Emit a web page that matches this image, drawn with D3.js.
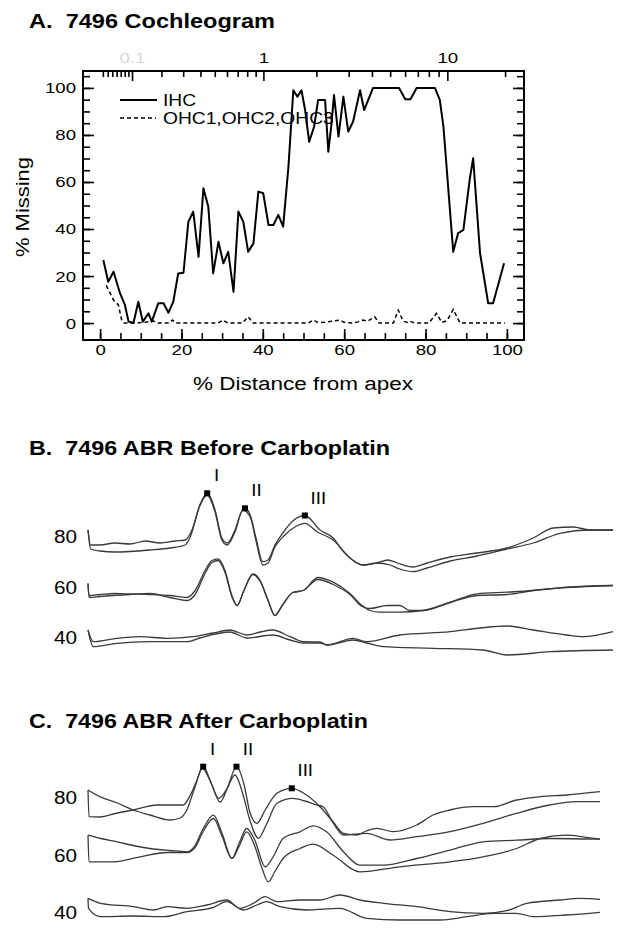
<!DOCTYPE html>
<html><head><meta charset="utf-8">
<script src="https://cdn.jsdelivr.net/npm/d3@7"></script>
<style>
html,body{margin:0;padding:0;background:#fff;}
svg{display:block;font-family:"Liberation Sans",Arial,Helvetica,sans-serif;}
text{white-space:pre;}
</style></head><body><svg id="chart" width="624" height="940"></svg>
<script>
// ---------- Panel A data: cochleogram ----------
const ihcDist = [0.8,2.0,3.3,4.9,6.1,7.0,8.2,9.4,10.5,11.9,12.7,14.3,15.6,16.8,18.0,19.2,20.5,21.7,22.9,24.2,25.4,26.6,27.8,29.1,30.3,31.5,32.8,34.0,35.2,36.4,37.7,38.9,40.1,41.4,42.6,43.8,45.0,46.3,47.5,48.5,49.5,50.4,51.4,52.6,53.6,55.3,56.1,56.9,57.5,58.6,59.8,61.0,62.2,63.9,64.9,67.1,73.5,75.0,76.3,77.8,82.3,83.5,84.4,86.8,88.0,89.3,90.9,91.7,93.4,95.4,96.6,99.3];
const ihcMissing = [26.8,17.6,21.8,12.7,7.7,0.6,0,9.1,0.6,4.1,0.6,8.4,8.4,4.4,9.1,21.1,21.4,43.1,47.4,28.2,57.3,49.5,21.1,34.6,25.4,30.3,13.3,47.4,43.1,30.3,33.9,55.9,55.2,41.7,41.7,46.0,41.0,66.5,99,96.3,99,90.6,77.1,83.5,94.9,94.9,72.9,85,97,79.3,96.3,81.4,85.7,99,90.6,100,100,95.2,95.2,100,100,94.9,83.5,30.3,38.2,39.6,61.6,70.1,29.7,8.4,8.4,25.4];
const ohcDist = [1.5,3.3,4.5,5.3,5.9,9,11.5,13,14,17,17.8,18.6,29,30.2,31.4,35,36.4,37.6,51.2,52.4,53.6,55,57.0,58.9,60,62,63.4,64.6,65.8,67.5,68.6,72.1,73.3,74.5,75.5,76.2,77.3,80.8,82.7,84.0,85.3,86.8,88.5,99.5];
const ohcMissing = [16,9.8,7.7,1.3,0,0,0.5,1,0,0,1.3,0,0,1.3,0,0,2.7,0,0,1.3,0.2,0.3,0.8,1.3,0.3,0,0.5,1.3,0.8,2.7,0,0,5.5,0.8,0.3,0.8,0,0,4.1,0.3,1.0,5.8,0,0];
const distTicks = [0,20,40,60,80,100];
const missingTicks = [0,20,40,60,80,100];
const freqMajor = [0.1,1,10];
const freqLabels = ["0.1","1","10"];
const freqMinor = [0.03,0.04,0.05,0.06,0.07,0.08,0.09,0.2,0.3,0.4,0.5,0.6,0.7,0.8,0.9,2,3,4,5,6,7,8,9,20];
const legendLabels = ["IHC","OHC1,OHC2,OHC3"];
const axisTitles = ["% Distance from apex","% Missing"];
const panelTitles = ["A.  7496 Cochleogram","B.  7496 ABR Before Carboplatin","C.  7496 ABR After Carboplatin"];

// ---------- Panels B, C data: ABR traces [ms, uV] ----------
const levels = ["80","60","40"];
const abrB80a = [[0,.7],[.05,-.8],[.23,-.8],[.51,-.6],[.8,-.7],[1.09,-.4],[1.37,-.6],[1.66,-.4],[1.85,-.3],[1.98,.7],[2.13,3.2],[2.27,4.37],[2.42,2.7],[2.55,-.1],[2.65,-.6],[2.8,.7],[2.93,2.6],[2.99,2.87],[3.09,2.2],[3.2,-.1],[3.33,-2.47],[3.43,-2.3],[3.56,-.8],[3.71,.4],[3.9,1.6],[4.13,2.15],[4.42,.7],[4.67,-.1],[4.84,-1.3],[4.99,-2.1],[5.24,-2.8],[5.5,-2.6],[5.71,-2.3],[5.89,-2.6],[6.19,-3.0],[6.46,-2.6],[6.9,-2.0],[7.41,-1.6],[7.98,-1.1],[8.48,-.1],[8.86,.9],[9.24,1.0],[9.56,.7],[10,.7]];
const abrB80b = [[0,.7],[.05,-1.2],[.23,-1.4],[.51,-1.5],[.8,-1.45],[1.18,-1.3],[1.56,-1.1],[1.85,-.8],[1.94,-.1],[2.13,3.1],[2.27,4.2],[2.42,2.5],[2.55,-.3],[2.65,-.8],[2.8,.5],[2.95,2.7],[3.09,2.0],[3.2,-.4],[3.33,-2.8],[3.43,-2.6],[3.56,-1.0],[3.75,.2],[3.94,1.0],[4.13,1.37],[4.36,.53],[4.67,-.3],[4.99,-2.1],[5.24,-2.8],[5.5,-2.6],[5.75,-2.8],[5.94,-3.2],[6.19,-3.47],[6.46,-3.1],[6.9,-2.4],[7.41,-1.9],[7.98,-1.2],[8.48,-.6],[8.99,.37],[9.56,.7],[10,.7]];
const abrB60a = [[0,.4],[.02,-.8],[.23,-.7],[.51,-.6],[.8,-.65],[1.18,-.7],[1.56,-.8],[1.89,-1.0],[2.04,-.3],[2.23,1.7],[2.36,2.7],[2.48,2.87],[2.61,1.7],[2.74,-.8],[2.84,-1.8],[2.97,-.3],[3.14,1.37],[3.28,.7],[3.43,-1.3],[3.56,-2.8],[3.7,-1.8],[3.9,-.5],[4.1,-.3],[4.38,1.0],[4.67,.53],[4.99,-.6],[5.22,-1.8],[5.37,-2.3],[5.56,-2.47],[5.94,-2.47],[6.38,-2.3],[6.9,-1.47],[7.41,-.63],[7.98,-.47],[8.48,-.3],[9.12,.03],[10,.2]];
const abrB60b = [[0,.4],[.02,-1.0],[.23,-.9],[.8,-.7],[1.18,-.6],[1.56,-1.0],[1.89,-1.3],[2.04,-.7],[2.23,1.4],[2.36,2.5],[2.48,2.7],[2.61,1.5],[2.74,-.9],[2.84,-1.8],[2.97,-.3],[3.14,1.3],[3.28,.6],[3.43,-1.3],[3.56,-2.8],[3.7,-1.8],[3.9,-.5],[4.1,-.3],[4.38,.8],[4.67,.3],[4.99,-.7],[5.22,-1.9],[5.37,-2.1],[5.7,-1.8],[5.94,-1.8],[6.13,-2.3],[6.38,-2.3],[6.9,-1.5],[7.41,-.8],[7.98,-.7],[8.48,-.3],[9.12,0],[10,.2]];
const abrB40a = [[0,.8],[.1,-.37],[.55,-.03],[.99,.13],[1.5,-.03],[2.0,.13],[2.38,.5],[2.7,.8],[3.03,.3],[3.28,.6],[3.52,.8],[3.85,.13],[4.1,-.37],[4.42,-.4],[4.55,-.7],[5.05,-.03],[5.31,-.37],[5.94,.3],[6.9,.63],[7.47,1.0],[7.98,1.2],[8.48,.8],[9.12,.3],[9.43,.13],[10,.63]];
const abrB40b = [[0,.8],[.1,-.87],[.55,-.53],[1.18,-.37],[1.89,-.37],[2.13,0],[2.7,.6],[3.03,0],[3.52,.3],[3.85,-.2],[4.1,-.5],[4.42,-.5],[4.55,-.7],[5.05,-.2],[5.31,-.5],[5.62,-.87],[6.57,-1.03],[7.52,-1.2],[7.98,-1.7],[8.8,-1.37],[10,-1.2]];
const abrC80a = [[0,.8],[.23,.13],[.57,-.5],[.88,-1.2],[1.21,-1.7],[1.6,-2.2],[1.8,-2.0],[1.93,-1.2],[2.07,.8],[2.25,3.13],[2.42,1.3],[2.58,-.4],[2.73,1.1],[2.9,3.13],[3.05,1.3],[3.16,-1.4],[3.3,-2.53],[3.46,-1.2],[3.69,.47],[3.98,.97],[4.24,.4],[4.53,-.87],[4.79,-2.4],[4.99,-3.53],[5.25,-3.7],[5.43,-3.3],[5.64,-3.03],[5.96,-3.37],[6.42,-2.7],[6.74,-1.7],[7.07,-1.2],[7.53,-.87],[7.92,-.87],[8.37,-.2],[8.83,.13],[9.35,.3],[10,.63]];
const abrC80b = [[0,.8],[.02,-1.87],[.23,-1.9],[.57,-1.5],[.88,-1.2],[1.35,-.7],[1.86,-.7],[2.0,.3],[2.13,1.8],[2.23,3.0],[2.38,1.8],[2.55,-.03],[2.7,.8],[2.87,2.3],[3.03,.3],[3.16,-2.2],[3.33,-4.03],[3.48,-2.7],[3.69,-.53],[4.0,-.03],[4.24,-.3],[4.47,-.7],[4.59,-.87],[4.79,-2.5],[4.99,-3.7],[5.44,-3.53],[5.9,-4.2],[6.42,-3.87],[7.07,-3.37],[7.72,-2.53],[8.37,-1.53],[9.02,-.7],[9.54,-.37],[10,-.37]];
const abrC60a = [[0,2.03],[.25,1.7],[.57,1.37],[.88,1.0],[1.21,.7],[1.6,.5],[1.93,.37],[2.09,1.0],[2.25,2.7],[2.45,4.03],[2.62,2.2],[2.81,-.3],[2.95,1.2],[3.1,2.7],[3.26,1.5],[3.46,-1.13],[3.62,-.1],[3.81,1.7],[4.14,2.37],[4.4,2.97],[4.66,2.37],[4.99,.37],[5.31,-.97],[5.77,-.97],[6.42,-.3],[7.07,.53],[7.72,1.37],[8.37,1.53],[9.02,1.7],[10,1.63]];
const abrC60b = [[0,2.03],[.02,-.63],[.5,-.63],[1.02,-.13],[1.54,.3],[1.93,.3],[2.09,.8],[2.25,2.4],[2.45,3.7],[2.62,1.9],[2.81,-.3],[2.95,.9],[3.1,2.37],[3.26,.9],[3.4,-1.3],[3.52,-2.63],[3.65,-1.6],[3.81,-.3],[4.14,.7],[4.4,1.13],[4.79,.03],[5.31,-1.63],[6.09,-1.13],[7.07,-.63],[7.72,-.13],[8.37,.7],[8.83,1.7],[9.35,2.03],[9.67,1.87],[10,1.63]];
const abrC40a = [[0,1.47],[.25,.97],[.89,.63],[1.28,.3],[1.54,.63],[1.93,.47],[2.32,.8],[2.71,1.3],[2.97,.47],[3.23,.97],[3.46,1.63],[3.69,1.13],[4.14,1.3],[4.53,1.3],[4.92,1.8],[5.31,1.3],[5.77,.97],[6.42,.63],[7.07,.13],[7.72,-.03],[8.18,.23],[8.57,.97],[9.22,1.3],[9.61,1.47],[10,1.37]];
const abrC40b = [[0,1.47],[.01,.47],[.25,-.37],[.89,-.3],[1.48,-.37],[1.93,.13],[2.45,.57],[2.71,1.13],[3.03,.3],[3.3,.8],[3.49,1.13],[3.75,.63],[4.27,.3],[4.92,.47],[5.44,-.53],[6.09,-.7],[6.88,-.7],[7.4,-.37],[7.92,-.03],[8.37,-.03],[8.7,-.37],[9.35,-.2],[10,.07]];
const peakNames = ["I","II","III"];
const peaksB = [[2.27,4.37],[2.99,2.87],[4.13,2.15]];
const peaksC = [[2.25,3.13],[2.9,3.13],[3.98,0.97]];

// ---------- helpers ----------
const svg = d3.select("#chart");
function stretch(sel, k){
  sel.each(function(){
    const w = this.getComputedTextLength();
    this.setAttribute("textLength", w*k);
    this.setAttribute("lengthAdjust","spacingAndGlyphs");
  });
}
function fitTo(sel, w){ sel.attr("textLength", w).attr("lengthAdjust","spacingAndGlyphs"); }

// ---------- Titles ----------
const titleW = [246, 361, 339];
const titleY = [28, 455, 728];
panelTitles.forEach((t,i)=>{
  svg.append("text").attr("x",29).attr("y",titleY[i])
    .attr("font-size",19.5).attr("font-weight","bold").attr("fill","#000")
    .text(t).call(fitTo, titleW[i]);
});

// ---------- Panel A ----------
const xA = d3.scaleLinear().domain([-4.2,104.2]).range([83,524]);
const yA = d3.scaleLinear().domain([-7.2,107.2]).range([340,71]);
const greenwood = f => 100*Math.log10(f/0.1635+0.85)/2.1;
const gA = svg.append("g");
const styleAxis = g => { g.select(".domain").remove(); g.selectAll(".tick line").attr("stroke","#000").attr("stroke-width",1.6); g.selectAll("text").attr("fill","#000").attr("font-size",15.5).attr("font-family",null); };

const fives = d3.range(0,101,5), fivesY = d3.range(0,106,5);
gA.append("g").attr("transform","translate(0,340)")
  .call(d3.axisBottom(xA).tickValues(fives).tickSize(-7).tickFormat("")).call(styleAxis);
gA.append("g").attr("transform","translate(0,340)")
  .call(d3.axisBottom(xA).tickValues(distTicks).tickSize(-11).tickPadding(4)).call(styleAxis)
  .selectAll("text").call(stretch,1.2);
gA.append("g").attr("transform","translate(83,0)")
  .call(d3.axisLeft(yA).tickValues(fivesY).tickSize(-7).tickFormat("")).call(styleAxis);
gA.append("g").attr("transform","translate(83,0)")
  .call(d3.axisLeft(yA).tickValues(missingTicks).tickSize(-11).tickPadding(7)).call(styleAxis)
  .selectAll("text").call(stretch,1.2);
gA.append("g").attr("transform","translate(524,0)")
  .call(d3.axisRight(yA).tickValues(fivesY).tickSize(-7).tickFormat("")).call(styleAxis);
gA.append("g").attr("transform","translate(524,0)")
  .call(d3.axisRight(yA).tickValues(missingTicks).tickSize(-11).tickFormat("")).call(styleAxis);
gA.append("g").attr("transform","translate(0,71)")
  .call(d3.axisTop(xA).tickValues(freqMinor.map(greenwood)).tickSize(-6).tickFormat("")).call(styleAxis);
const topMaj = gA.append("g").attr("transform","translate(0,71)")
  .call(d3.axisTop(xA).tickValues(freqMajor.map(greenwood)).tickSize(-10).tickPadding(8)
  .tickFormat((d,i)=>freqLabels[i])).call(styleAxis);
topMaj.selectAll("text").call(stretch,1.2).attr("fill",(d,i)=> i===0 ? "#d6d6d6" : "#000");

gA.append("rect").attr("x",83).attr("y",71).attr("width",441).attr("height",269)
  .attr("fill","none").attr("stroke","#000").attr("stroke-width",2);

const lineA = d3.line().x(d=>xA(d[0])).y(d=>yA(d[1]));
gA.append("path").datum(ohcDist.map((d,i)=>[d,ohcMissing[i]]))
  .attr("d",lineA).attr("fill","none").attr("stroke","#000").attr("stroke-width",1.5).attr("stroke-dasharray","4,3");
gA.append("path").datum(ihcDist.map((d,i)=>[d,ihcMissing[i]]))
  .attr("d",lineA).attr("fill","none").attr("stroke","#000").attr("stroke-width",2).attr("stroke-linejoin","round");

// legend
const lg = gA.append("g");
lg.append("line").attr("x1",120).attr("x2",157).attr("y1",100).attr("y2",100).attr("stroke","#000").attr("stroke-width",2);
lg.append("line").attr("x1",120).attr("x2",156).attr("y1",118).attr("y2",118).attr("stroke","#000").attr("stroke-width",1.5).attr("stroke-dasharray","4,3");
lg.selectAll("text.lg").data(legendLabels).join("text").attr("class","lg")
  .attr("x",163).attr("y",(d,i)=>106+i*18).attr("font-size",16).text(d=>d).call(stretch,1.2);

// axis titles
gA.append("text").attr("x",303).attr("y",390).attr("text-anchor","middle").attr("font-size",18)
  .text(axisTitles[0]).call(stretch,1.25);
gA.append("text").attr("transform","translate(29,207) rotate(-90)").attr("text-anchor","middle").attr("font-size",18)
  .text(axisTitles[1]).call(stretch,1.22);

// ---------- Panels B & C ----------
const amp = d3.scaleLinear().domain([0,1]).range([0,-10]);
function drawABR(tRange, levelRange, traces, peaks){
  const t = d3.scaleLinear().domain([0,10]).range(tRange);
  const lv = d3.scalePoint().domain(levels).range(levelRange);
  const g = svg.append("g");
  traces.forEach(([L, tr])=>{
    const line = d3.line().curve(d3.curveMonotoneX).x(d=>t(d[0])).y(d=>lv(L)+amp(d[1]));
    g.append("path").datum(tr).attr("d",line).attr("fill","none")
      .attr("stroke","#3a3a3a").attr("stroke-width",1.3).attr("stroke-linejoin","round");
  });
  g.selectAll("text.lv").data(levels).join("text").attr("class","lv")
    .attr("x",77).attr("y",d=>lv(d)).attr("dy","0.35em").attr("text-anchor","end")
    .attr("font-size",18).text(d=>d).call(stretch,1.15);
  g.selectAll("rect.pk").data(peaks).join("rect").attr("class","pk")
    .attr("x",d=>t(d[0])-3).attr("y",d=>lv("80")+amp(d[1])-3).attr("width",6).attr("height",6).attr("fill","#000");
  g.selectAll("text.pk").data(peaks).join("text").attr("class","pk")
    .attr("x",(d,i)=>t(d[0])+7.5+2*peakNames[i].length).attr("y",d=>lv("80")+amp(d[1])-12)
    .attr("text-anchor","middle").attr("font-size",17).text((d,i)=>peakNames[i]).call(stretch,1.1);
}
drawABR([88,613],[537,638],[["80",abrB80a],["80",abrB80b],["60",abrB60a],["60",abrB60b],["40",abrB40a],["40",abrB40b]], peaksB);
drawABR([88,600],[798,913],[["80",abrC80a],["80",abrC80b],["60",abrC60a],["60",abrC60b],["40",abrC40a],["40",abrC40b]], peaksC);
</script></body></html>
